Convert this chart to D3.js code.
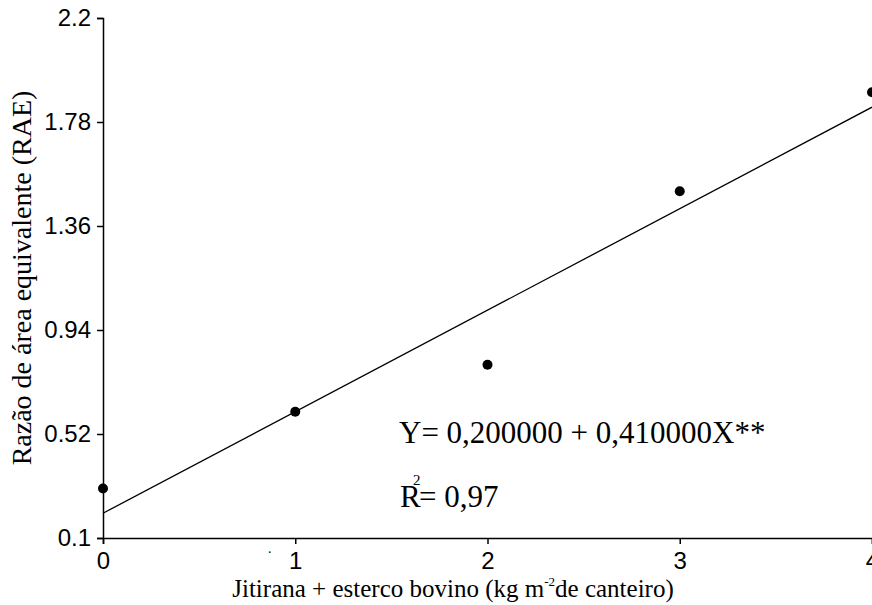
<!DOCTYPE html>
<html>
<head>
<meta charset="utf-8">
<style>
  body { margin: 0; background: #fff; }
  svg { display: block; }
</style>
</head>
<body>
<svg id="chart" width="872" height="605"></svg>
<script src="https://d3js.org/d3.v7.min.js"></script>
<script>
// observed points
const doses = [0, 1, 2, 3, 4]
const rae = [0.30, 0.61, 0.80, 1.50, 1.90]
// fitted line Y = a + bX
const coef = [0.20, 0.41]
const yTicks = [0.1, 0.52, 0.94, 1.36, 1.78, 2.2]
const xTicks = [0, 1, 2, 3, 4]

const svg = d3.select('#chart')
const x = d3.scaleLinear().domain([0, 4]).range([103, 872])
const y = d3.scaleLinear().domain([0.1, 2.2]).range([538, 18])
const sans = 'Liberation Sans, Arial, sans-serif'
const serif = 'Liberation Serif, Times New Roman, serif'

svg.append('g').attr('transform', 'translate(103,0)')
  .call(d3.axisLeft(y).tickValues(yTicks).tickFormat(d => String(d)).tickSizeOuter(0).tickSize(6).tickPadding(6))
  .call(g => g.selectAll('text').attr('font-family', sans).attr('font-size', 24).attr('fill', '#000'))

svg.append('g').attr('transform', 'translate(0,538)')
  .call(d3.axisBottom(x).tickValues(xTicks).tickFormat(d3.format('d')).tickSizeOuter(0).tickSize(6).tickPadding(8))
  .call(g => g.selectAll('text').attr('font-family', sans).attr('font-size', 24).attr('fill', '#000'))

svg.selectAll('.domain, .tick line').attr('stroke', '#000').attr('stroke-width', 1.5)

// regression line
svg.append('line')
  .attr('x1', x(0)).attr('y1', y(coef[0]))
  .attr('x2', x(4)).attr('y2', y(coef[0] + coef[1] * 4))
  .attr('stroke', '#000').attr('stroke-width', 1.3)

svg.selectAll('.pt').data(doses).enter().append('circle').classed('pt', true)
  .attr('cx', (d) => x(d)).attr('cy', (d, i) => y(rae[i])).attr('r', 5).attr('fill', '#000')

svg.append('text').attr('transform', 'translate(31,278) rotate(-90)')
  .attr('text-anchor', 'middle').attr('font-family', serif).attr('font-size', 28)
  .text('Razão de área equivalente (RAE)')

const xl = svg.append('text').attr('x', 453).attr('y', 597)
  .attr('text-anchor', 'middle').attr('font-family', serif).attr('font-size', 25)
xl.append('tspan').text('Jitirana + esterco bovino (kg m')
xl.append('tspan').attr('dy', -11).attr('font-size', 13).text('-2')
xl.append('tspan').attr('dy', 11).text('de canteiro)')

svg.append('text').attr('x', 399).attr('y', 443)
  .attr('font-family', serif).attr('font-size', 31)
  .text('Y= 0,200000 + 0,410000X**')

svg.append('text').attr('x', 400).attr('y', 507)
  .attr('font-family', serif).attr('font-size', 31).text('R')
svg.append('text').attr('x', 413).attr('y', 485)
  .attr('font-family', serif).attr('font-size', 15).text('2')
svg.append('text').attr('x', 419).attr('y', 507)
  .attr('font-family', serif).attr('font-size', 31).text('= 0,97')

svg.append('text').attr('x', 268).attr('y', 553).attr('font-size', 14).text('.')
</script>
</body>
</html>
